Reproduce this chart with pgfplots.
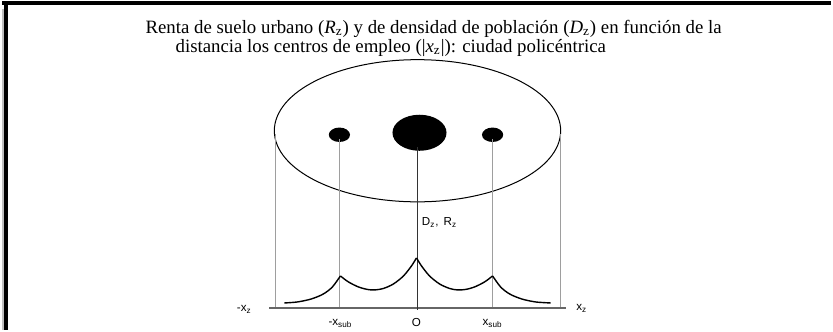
\documentclass[border=0pt]{standalone}
\usepackage{fontspec}
\setmainfont{Liberation Serif}
\setsansfont{Liberation Sans}
\usepackage{pgfplots}
\pgfplotsset{compat=1.18}

% curve of rent / density, in pixel units of the frame (y grows downwards)
\pgfplotstableread{
x y
287 314
300 313
314 310
326 305
335 298
343 287
}\segA
\pgfplotstableread{
x y
343 287
351 293
361 298
370 300.5
377 301
386 299.5
396 295
406 287
414 277
419 269
}\segB
\pgfplotstableread{
x y
419 269
424 277
432 287
442 295
452 299.5
460 301
468 300.5
477 298
487 293
495 287
}\segC
\pgfplotstableread{
x y
495 287
503 298
512 305
524 310
538 313
553 314
}\segD

\definecolor{projCol}{gray}{0.62}

\begin{document}
\begin{tikzpicture}
\begin{axis}[
    width=416.5pt, height=170.5pt, scale only axis,
    xmin=0, xmax=833, ymin=0, ymax=341, y dir=reverse,
    hide axis, clip=false,
]
    % frame
    \draw[black, line width=2pt] (axis cs:5,14) -- (axis cs:833,14);
    \draw[black, line width=1.6pt] (axis cs:9,13) -- (axis cs:9,341);
    \draw[gray!50, line width=0.6pt] (axis cs:6,20) -- (axis cs:6,341);

    % title
    \node[anchor=west, inner sep=0pt, font=\fontsize{9.4}{10}\selectfont]
        at (axis cs:148,40) {Renta de suelo urbano (\textit{R}\textsubscript{z}) y de densidad de población (\textit{D}\textsubscript{z}) en función de la};
    \node[anchor=west, inner sep=0pt, font=\fontsize{9.4}{10}\selectfont]
        at (axis cs:178,59) {distancia los centros de empleo (|\textit{x}\textsubscript{z}|): ciudad policéntrica};

    % city plan
    \draw[black, line width=0.5pt] (axis cs:420,142) ellipse [x radius=71.5pt, y radius=35.5pt];
    \fill[black] (axis cs:422,144) ellipse [x radius=13.5pt, y radius=9pt];
    \fill[black] (axis cs:342,146) ellipse [x radius=5.3pt, y radius=3.6pt];
    \fill[black] (axis cs:495,146) ellipse [x radius=5.3pt, y radius=3.6pt];

    % projection lines
    \draw[projCol, line width=0.5pt] (axis cs:278,145) -- (axis cs:278,320);
    \draw[projCol, line width=0.5pt] (axis cs:563,145) -- (axis cs:563,320);
    \draw[projCol, line width=0.6pt] (axis cs:342,150) -- (axis cs:342,320);
    \draw[projCol, line width=0.6pt] (axis cs:495,150) -- (axis cs:495,320);

    % x axis and centre axis
    \draw[gray!80!black, line width=0.7pt] (axis cs:272,319) -- (axis cs:568,319);
    \draw[black!80, line width=0.9pt] (axis cs:420,158) -- (axis cs:420,321);

    % curve
    \addplot[black, line width=0.7pt, smooth, tension=0.5] table {\segA};
    \addplot[black, line width=0.7pt, smooth, tension=0.5] table {\segB};
    \addplot[black, line width=0.7pt, smooth, tension=0.5] table {\segC};
    \addplot[black, line width=0.7pt, smooth, tension=0.5] table {\segD};

    % labels
    \begin{scope}[every node/.style={font=\sffamily\fontsize{5.8}{6}\selectfont, inner sep=0pt}]
        \node[anchor=west] at (axis cs:424,234) {D\textsubscript{z},\, R\textsubscript{z}};
        \node at (axis cs:247,320) {-x\textsubscript{z}};
        \node at (axis cs:584,319) {x\textsubscript{z}};
        \node at (axis cs:343,334) {-x\textsubscript{sub}};
        \node at (axis cs:419,334) {O};
        \node at (axis cs:495,334) {x\textsubscript{sub}};
    \end{scope}
\end{axis}
\end{tikzpicture}
\end{document}
